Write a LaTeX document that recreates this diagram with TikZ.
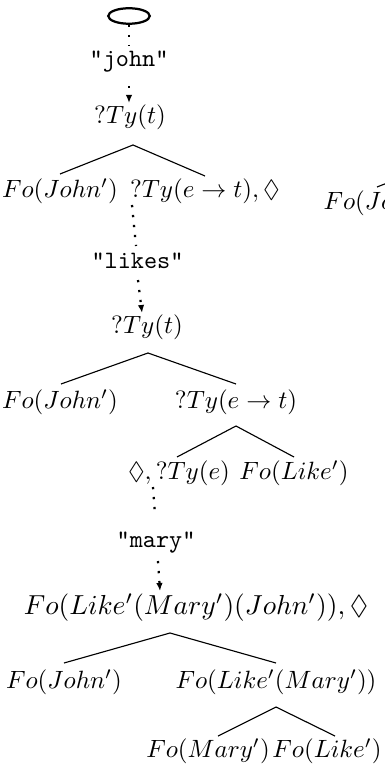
\documentclass[tikz,border=0pt]{standalone}
\usepackage{amssymb}
\usetikzlibrary{shapes.geometric,arrows.meta}
\begin{document}
\begin{tikzpicture}[x=0.4pt,y=-0.4pt,
  lbl/.style={inner sep=0pt},
  dots/.style={line width=0.9pt,dash pattern=on 0.9pt off 3.1pt},
  darrow/.style={dots,-{Latex[length=3.2pt,width=2.6pt]}},
  branch/.style={line width=0.45pt}]
\useasboundingbox (0,0) rectangle (385,765);
\clip (0,0) rectangle (385,765);
% nodes
\node[draw,ellipse,line width=0.9pt,minimum width=16.6pt,minimum height=6.2pt,inner sep=0pt] (root) at (129,16) {};
\node[lbl] (john) at (129,62) {\texttt{"john"}};
\node[lbl] (ty1) at (130,117) {$?Ty(t)$};
\node[lbl] (fj1) at (60,191) {$Fo(John')$};
\node[lbl] (tyet1) at (205,191) {$?Ty(e\rightarrow t),\Diamond$};
\node[lbl,anchor=west] (fjr) at (323,203) {$Fo(John')$};
\node[lbl] (likes) at (137.5,261) {\texttt{"likes"}};
\node[lbl] (ty2) at (147,327) {$?Ty(t)$};
\node[lbl] (fj2) at (60,402) {$Fo(John')$};
\node[lbl] (tyet2) at (236,402) {$?Ty(e\rightarrow t)$};
\node[lbl] (dty) at (179,473) {$\Diamond,?Ty(e)$};
\node[lbl] (fl1) at (294,473) {$Fo(Like')$};
\node[lbl] (mary) at (156,543) {\texttt{"mary"}};
\node[lbl] (big) at (196,608) {\scalebox{1.1}{$Fo(Like'(Mary')(John')),\Diamond$}};
\node[lbl] (fj3) at (64,682) {$Fo(John')$};
\node[lbl] (flm) at (276,682) {$Fo(Like'(Mary'))$};
\node[lbl] (fm) at (208,751) {$Fo(Mary')$};
\node[lbl] (fl2) at (327,751) {$Fo(Like')$};
% connector end points
\coordinate (d1a) at (129,25);  \coordinate (d1b) at (129,46);
\coordinate (d2a) at (129,86);  \coordinate (d2b) at (129,103);
\coordinate (d3a) at (132,205); \coordinate (d3b) at (136,246);
\coordinate (d4a) at (138,280); \coordinate (d4b) at (142,313);
\coordinate (d5a) at (153,487); \coordinate (d5b) at (155,514);
\coordinate (d6a) at (158,561); \coordinate (d6b) at (160,591);
\coordinate (a1) at (133,145); \coordinate (a1l) at (60,174);  \coordinate (a1r) at (205,176);
\coordinate (sr) at (377,187); \coordinate (srx) at (400,178);
\coordinate (a2) at (148,353); \coordinate (a2l) at (61,384);  \coordinate (a2r) at (236,384);
\coordinate (a3) at (236,426); \coordinate (a3l) at (177,457); \coordinate (a3r) at (294,457);
\coordinate (a4) at (170,633); \coordinate (a4l) at (64,663);  \coordinate (a4r) at (276,663);
\coordinate (a5) at (276,707); \coordinate (a5l) at (218,736); \coordinate (a5r) at (335,736);
% dotted links
\draw[dots] (d1a) -- (d1b);
\draw[darrow] (d2a) -- (d2b);
\draw[dots] (d3a) -- (d3b);
\draw[darrow] (d4a) -- (d4b);
\draw[dots] (d5a) -- (d5b);
\draw[darrow] (d6a) -- (d6b);
% branches
\draw[branch] (a1l) -- (a1) -- (a1r);
\draw[branch] (sr) -- (srx);
\draw[branch] (a2l) -- (a2) -- (a2r);
\draw[branch] (a3l) -- (a3) -- (a3r);
\draw[branch] (a4l) -- (a4) -- (a4r);
\draw[branch] (a5l) -- (a5) -- (a5r);
\end{tikzpicture}
\end{document}
